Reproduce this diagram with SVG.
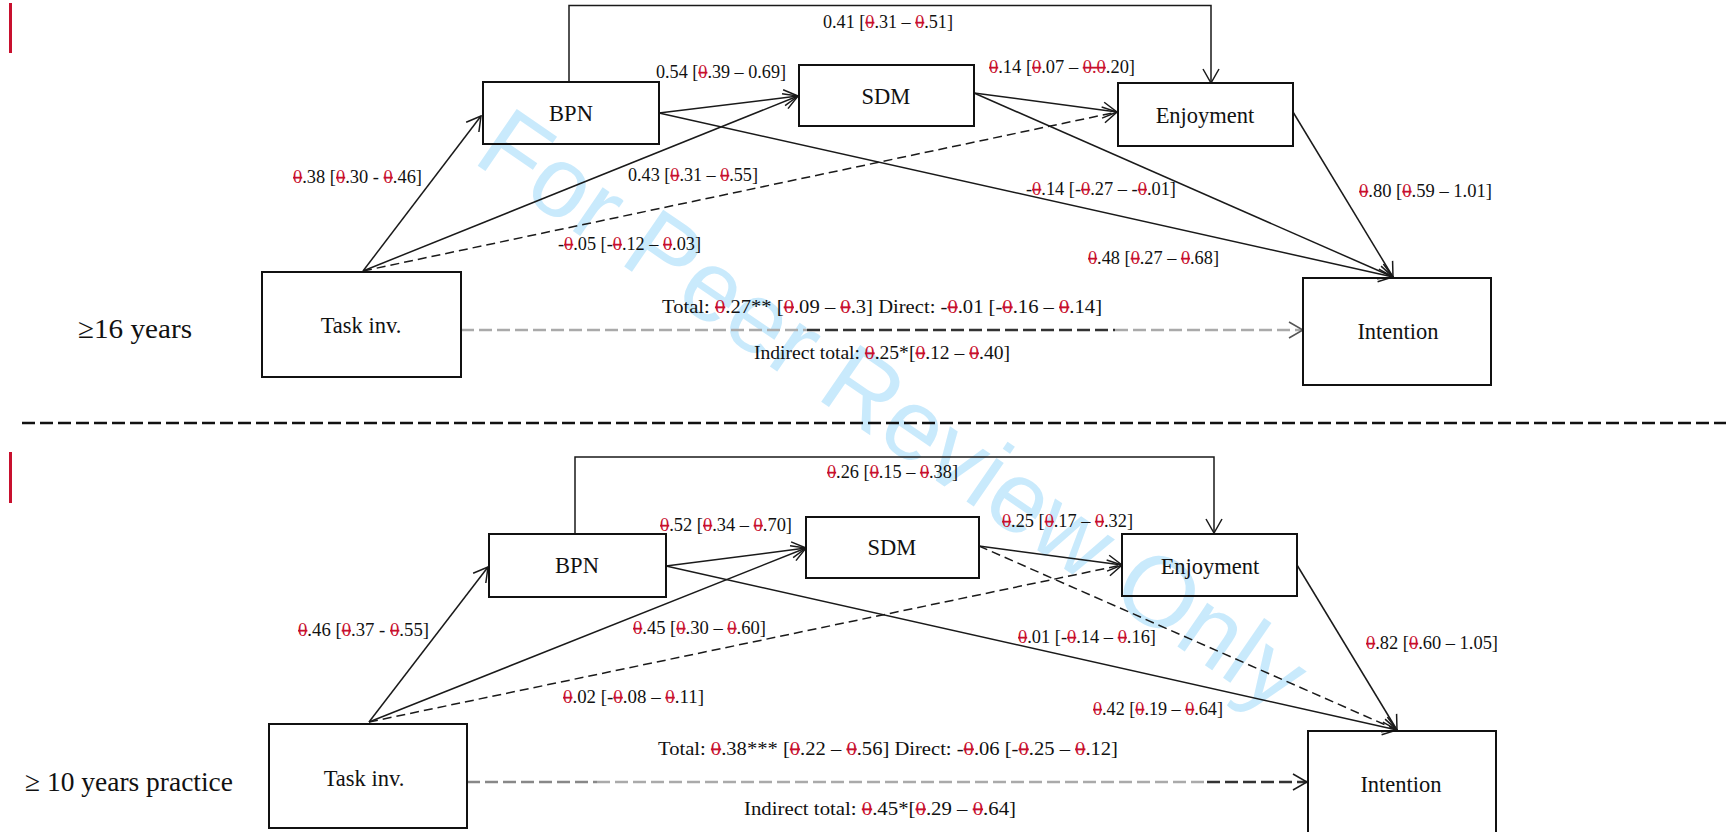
<svg xmlns="http://www.w3.org/2000/svg" width="1726" height="832" viewBox="0 0 1726 832">
<defs>
<style>
.lbl{font-family:'Liberation Serif','Times New Roman',Tinos,'DejaVu Serif',serif;font-size:18px;fill:#111}
.tot{font-family:'Liberation Serif','Times New Roman',Tinos,'DejaVu Serif',serif;font-size:19.5px;fill:#111}
.r{fill:#c8102e;text-decoration:line-through}
.box{fill:none;stroke:#111;stroke-width:2}
.nl{font-family:'Liberation Serif','Times New Roman',Tinos,'DejaVu Serif',serif;font-size:22.5px;text-anchor:middle;fill:#111}
.side{font-family:'Liberation Serif','Times New Roman',Tinos,'DejaVu Serif',serif;font-size:28px;fill:#111}
.c{fill:none;stroke:#1a1a1a;stroke-width:1.5;marker-end:url(#ah)}
.d{stroke-dasharray:9 5}
.h{fill:none;stroke-width:2.5;stroke-dasharray:13 5}
.wm{font-family:'Liberation Sans',Arial,sans-serif;font-size:100px;fill:#c9eafc;text-anchor:middle}
</style>
<marker id="ah" markerUnits="userSpaceOnUse" viewBox="0 0 16 18" markerWidth="16" markerHeight="18" refX="15" refY="9" orient="auto">
<path d="M1,1 L15,9 L1,17" fill="none" stroke="#1a1a1a" stroke-width="1.5"/>
</marker>
<marker id="ahg" markerUnits="userSpaceOnUse" viewBox="0 0 16 18" markerWidth="16" markerHeight="18" refX="15" refY="9" orient="auto">
<path d="M1,1 L15,9 L1,17" fill="none" stroke="#555" stroke-width="1.6"/>
</marker>
</defs>
<rect width="1726" height="832" fill="#fff"/>
<text class="wm" transform="translate(874,438) rotate(34.5)">For Peer Review Only</text>
<g id="marks">
<rect x="9" y="3" width="3" height="50" fill="#c8102e"/>
<rect x="9" y="452" width="3" height="51" fill="#c8102e"/>
<line x1="22" y1="423" x2="1726" y2="423" stroke="#111" stroke-width="2.5" stroke-dasharray="13 5"/>
<text class="side" x="78" y="338" textLength="114" lengthAdjust="spacingAndGlyphs">≥16 years</text>
<text class="side" x="25" y="791" textLength="208" lengthAdjust="spacingAndGlyphs">≥ 10 years practice</text>
</g>
<g id="connectors">
<path class="c" d="M569,82 V5.5 H1211 V83"/>
<line class="c" x1="363" y1="271" x2="481" y2="116"/>
<line class="c" x1="363" y1="271" x2="798" y2="96"/>
<line class="c d" x1="363" y1="271" x2="1117" y2="112"/>
<line class="c" x1="659" y1="113" x2="798" y2="96"/>
<line class="c" x1="659" y1="113" x2="1393" y2="277"/>
<line class="c" x1="974" y1="93" x2="1117" y2="112"/>
<line class="c" x1="974" y1="93" x2="1393" y2="277"/>
<line class="c" x1="1293" y1="112" x2="1393" y2="277"/>
<line class="h" x1="461" y1="330" x2="807" y2="330" stroke="#aaa"/>
<line class="h" x1="807" y1="330" x2="1115" y2="330" stroke="#333"/>
<line class="h" x1="1115" y1="330" x2="1303" y2="330" stroke="#aaa" marker-end="url(#ahg)"/>
<path class="c" d="M575,534 V457 H1214 V533"/>
<line class="c" x1="369" y1="722" x2="488" y2="567"/>
<line class="c" x1="369" y1="722" x2="806" y2="548"/>
<line class="c d" x1="369" y1="722" x2="1122" y2="565"/>
<line class="c" x1="666" y1="566" x2="806" y2="548"/>
<line class="c" x1="666" y1="566" x2="1397" y2="730"/>
<line class="c" x1="979" y1="546" x2="1122" y2="565"/>
<line class="c d" x1="979" y1="546" x2="1397" y2="730"/>
<line class="c" x1="1297" y1="565" x2="1397" y2="730"/>
<line class="h" x1="467" y1="782" x2="597" y2="782" stroke="#888"/>
<line class="h" x1="597" y1="782" x2="1207" y2="782" stroke="#aaa"/>
<line class="h" x1="1207" y1="782" x2="1307" y2="782" stroke="#333" marker-end="url(#ah)"/>
</g>
<g id="labels">
<text class="lbl" x="823" y="28" textLength="130" lengthAdjust="spacingAndGlyphs">0.41 [<tspan class="r">0</tspan>.31 – <tspan class="r">0</tspan>.51]</text>
<text class="lbl" x="656" y="78" textLength="130" lengthAdjust="spacingAndGlyphs">0.54 [<tspan class="r">0</tspan>.39 – 0.69]</text>
<text class="lbl" x="989" y="73" textLength="146" lengthAdjust="spacingAndGlyphs"><tspan class="r">0</tspan>.14 [<tspan class="r">0</tspan>.07 – <tspan class="r">0.0</tspan>.20]</text>
<text class="lbl" x="293" y="183" textLength="129" lengthAdjust="spacingAndGlyphs"><tspan class="r">0</tspan>.38 [<tspan class="r">0</tspan>.30 - <tspan class="r">0</tspan>.46]</text>
<text class="lbl" x="628" y="181" textLength="130" lengthAdjust="spacingAndGlyphs">0.43 [<tspan class="r">0</tspan>.31 – <tspan class="r">0</tspan>.55]</text>
<text class="lbl" x="1026" y="195" textLength="150" lengthAdjust="spacingAndGlyphs">-<tspan class="r">0</tspan>.14 [-<tspan class="r">0</tspan>.27 – -<tspan class="r">0</tspan>.01]</text>
<text class="lbl" x="1359" y="197" textLength="133" lengthAdjust="spacingAndGlyphs"><tspan class="r">0</tspan>.80 [<tspan class="r">0</tspan>.59 – 1.01]</text>
<text class="lbl" x="558" y="250" textLength="143" lengthAdjust="spacingAndGlyphs">-<tspan class="r">0</tspan>.05 [-<tspan class="r">0</tspan>.12 – <tspan class="r">0</tspan>.03]</text>
<text class="lbl" x="1088" y="264" textLength="131" lengthAdjust="spacingAndGlyphs"><tspan class="r">0</tspan>.48 [<tspan class="r">0</tspan>.27 – <tspan class="r">0</tspan>.68]</text>
<text class="tot" x="662" y="313" textLength="440" lengthAdjust="spacingAndGlyphs">Total: <tspan class="r">0</tspan>.27** [<tspan class="r">0</tspan>.09 – <tspan class="r">0</tspan>.3] Direct: -<tspan class="r">0</tspan>.01 [-<tspan class="r">0</tspan>.16 – <tspan class="r">0</tspan>.14]</text>
<text class="tot" x="754" y="359" textLength="256" lengthAdjust="spacingAndGlyphs">Indirect total: <tspan class="r">0</tspan>.25*[<tspan class="r">0</tspan>.12 – <tspan class="r">0</tspan>.40]</text>
<text class="lbl" x="827" y="478" textLength="131" lengthAdjust="spacingAndGlyphs"><tspan class="r">0</tspan>.26 [<tspan class="r">0</tspan>.15 – <tspan class="r">0</tspan>.38]</text>
<text class="lbl" x="660" y="531" textLength="132" lengthAdjust="spacingAndGlyphs"><tspan class="r">0</tspan>.52 [<tspan class="r">0</tspan>.34 – <tspan class="r">0</tspan>.70]</text>
<text class="lbl" x="1002" y="527" textLength="131" lengthAdjust="spacingAndGlyphs"><tspan class="r">0</tspan>.25 [<tspan class="r">0</tspan>.17 – <tspan class="r">0</tspan>.32]</text>
<text class="lbl" x="298" y="636" textLength="131" lengthAdjust="spacingAndGlyphs"><tspan class="r">0</tspan>.46 [<tspan class="r">0</tspan>.37 - <tspan class="r">0</tspan>.55]</text>
<text class="lbl" x="633" y="634" textLength="133" lengthAdjust="spacingAndGlyphs"><tspan class="r">0</tspan>.45 [<tspan class="r">0</tspan>.30 – <tspan class="r">0</tspan>.60]</text>
<text class="lbl" x="1018" y="643" textLength="138" lengthAdjust="spacingAndGlyphs"><tspan class="r">0</tspan>.01 [-<tspan class="r">0</tspan>.14 – <tspan class="r">0</tspan>.16]</text>
<text class="lbl" x="1366" y="649" textLength="132" lengthAdjust="spacingAndGlyphs"><tspan class="r">0</tspan>.82 [<tspan class="r">0</tspan>.60 – 1.05]</text>
<text class="lbl" x="563" y="703" textLength="141" lengthAdjust="spacingAndGlyphs"><tspan class="r">0</tspan>.02 [-<tspan class="r">0</tspan>.08 – <tspan class="r">0</tspan>.11]</text>
<text class="lbl" x="1093" y="715" textLength="130" lengthAdjust="spacingAndGlyphs"><tspan class="r">0</tspan>.42 [<tspan class="r">0</tspan>.19 – <tspan class="r">0</tspan>.64]</text>
<text class="tot" x="658" y="755" textLength="460" lengthAdjust="spacingAndGlyphs">Total: <tspan class="r">0</tspan>.38*** [<tspan class="r">0</tspan>.22 – <tspan class="r">0</tspan>.56] Direct: -<tspan class="r">0</tspan>.06 [-<tspan class="r">0</tspan>.25 – <tspan class="r">0</tspan>.12]</text>
<text class="tot" x="744" y="815" textLength="272" lengthAdjust="spacingAndGlyphs">Indirect total: <tspan class="r">0</tspan>.45*[<tspan class="r">0</tspan>.29 – <tspan class="r">0</tspan>.64]</text>
</g>
<g id="bpn1"><rect class="box" x="483" y="82" width="176" height="62"/><text class="nl" x="571" y="121">BPN</text></g>
<g id="sdm1"><rect class="box" x="799" y="65" width="175" height="61"/><text class="nl" x="886" y="104">SDM</text></g>
<g id="enj1"><rect class="box" x="1118" y="83" width="175" height="63"/><text class="nl" x="1205" y="123">Enjoyment</text></g>
<g id="task1"><rect class="box" x="262" y="272" width="199" height="105"/><text class="nl" x="361" y="333">Task inv.</text></g>
<g id="int1"><rect class="box" x="1303" y="278" width="188" height="107"/><text class="nl" x="1398" y="339">Intention</text></g>
<g id="bpn2"><rect class="box" x="489" y="534" width="177" height="63"/><text class="nl" x="577" y="573">BPN</text></g>
<g id="sdm2"><rect class="box" x="806" y="517" width="173" height="61"/><text class="nl" x="892" y="555">SDM</text></g>
<g id="enj2"><rect class="box" x="1122" y="534" width="175" height="62"/><text class="nl" x="1210" y="574">Enjoyment</text></g>
<g id="task2"><rect class="box" x="269" y="724" width="198" height="104"/><text class="nl" x="364" y="786">Task inv.</text></g>
<g id="int2"><rect class="box" x="1308" y="731" width="188" height="110"/><text class="nl" x="1401" y="792">Intention</text></g>
</svg>
